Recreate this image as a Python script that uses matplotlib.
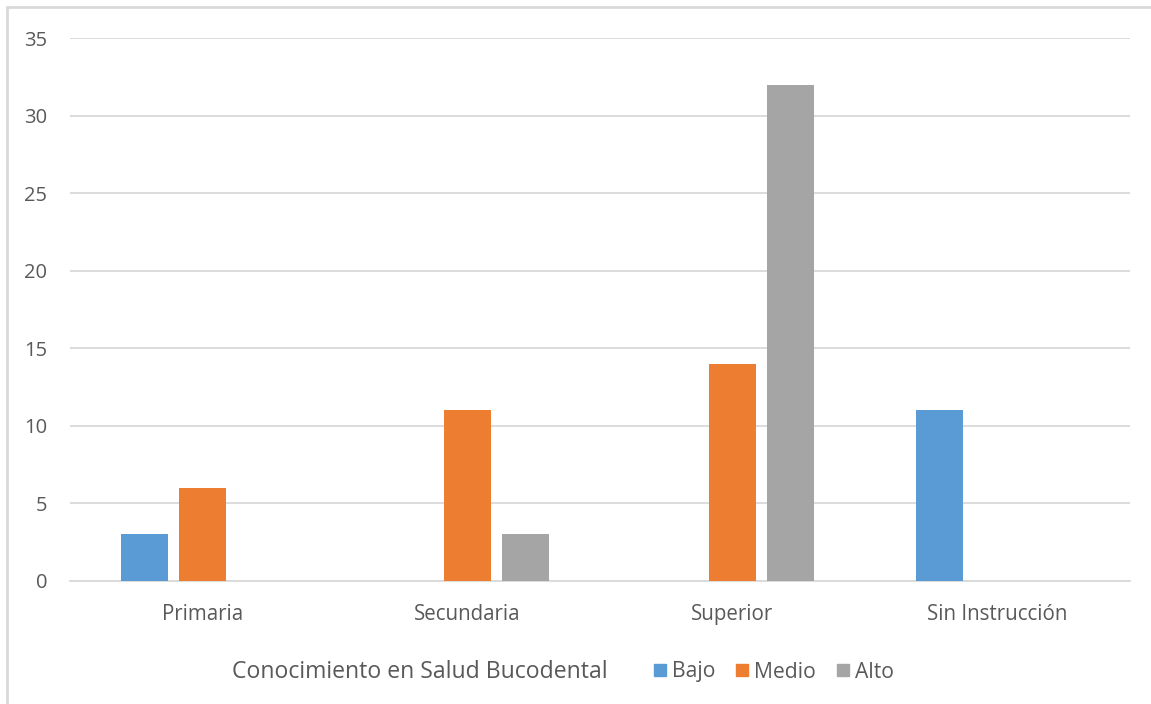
import matplotlib.pyplot as plt
import matplotlib.patches as patches
import numpy as np

categorias = ["Primaria", "Secundaria", "Superior", "Sin Instrucción"]
series = ["Bajo", "Medio", "Alto"]
bajo = [3, 0, 0, 11]
medio = [6, 11, 14, 0]
alto = [0, 3, 32, 0]
colores = ["#5b9bd5", "#ed7d31", "#a5a5a5"]

plt.rcParams['font.family'] = ['Open Sans', 'DejaVu Sans']
gris_texto = "#595959"
gris_linea = "#d9d9d9"

fig = plt.figure(figsize=(11.51, 7.04), dpi=100)
ax = fig.add_axes([70/1151, 1 - 581/704, 1060/1151, (581 - 38)/704])

x = np.arange(len(categorias))
ancho = 0.174
paso = 0.219
for i, (valores, nombre) in enumerate(zip([bajo, medio, alto], series)):
    ax.bar(x + (i - 1) * paso, valores, ancho, color=colores[i], label=nombre, zorder=3)

ax.set_xlim(-0.5, len(categorias) - 0.5)
ax.set_ylim(0, 35)
ax.set_yticks(range(0, 36, 5))
ax.set_xticks(x)
ax.set_xticklabels(categorias)
ax.grid(axis='y', color=gris_linea, lw=1.3, zorder=0)
for lado in ['top', 'right', 'left']:
    ax.spines[lado].set_visible(False)
ax.spines['bottom'].set_color(gris_linea)
ax.spines['bottom'].set_linewidth(1.3)
ax.tick_params(axis='both', length=0, colors=gris_texto)
ax.tick_params(axis='y', pad=16.5, labelsize=14.5)
ax.tick_params(axis='x', pad=16.5, labelsize=14.8)

# borde del área del gráfico
fig.patches.append(patches.Rectangle((7/1151, -0.1), 1.2, 1 - 7/704 + 0.1, transform=fig.transFigure,
                                     fill=False, edgecolor=gris_linea, lw=2))

fig.text(232/1151, 1 - 672/704, "Conocimiento en Salud Bucodental", fontsize=16.6,
         color=gris_texto, ha='left', va='center')
handles = [patches.Rectangle((0, 0), 1, 1, color=c) for c in colores]
fig.legend(handles, series, loc='center left', bbox_to_anchor=(654/1151, 1 - 672/704),
           ncol=3, frameon=False, fontsize=15.2, labelcolor=gris_texto,
           handlelength=0.55, handleheight=0.55, handletextpad=0.3, columnspacing=1.0,
           borderaxespad=0, borderpad=0)

fig.savefig("out.png", dpi=100)
